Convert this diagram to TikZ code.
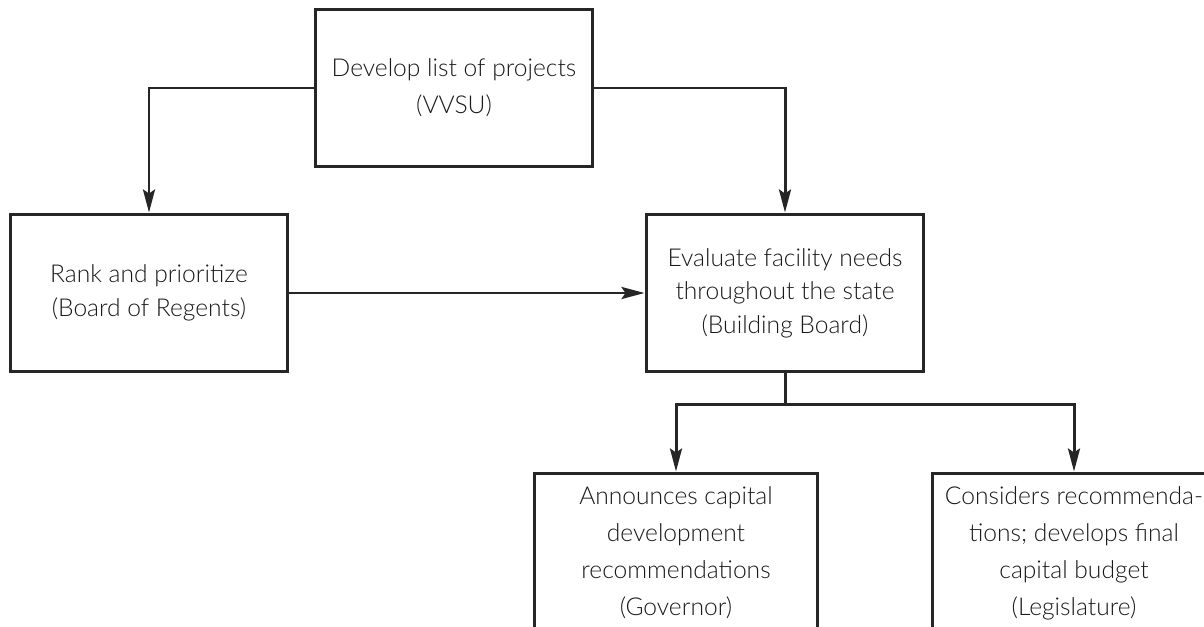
\documentclass[tikz,border=0pt]{standalone}
\usepackage{fontspec}
\IfFontExistsTF{Lato Light}{\setmainfont{Lato Light}}{\setmainfont{Lato}}
\usepackage{tikz}
\usetikzlibrary{arrows.meta,calc}

\tikzset{
	stepbox/.style={draw, rectangle, align=center, text=black!90,
		minimum width=5.56cm, minimum height=3.16cm, inner sep=2pt,
		font=\fontsize{14}{19}\selectfont},
	lowbox/.style={stepbox, minimum width=5.68cm, minimum height=3.2cm,
		font=\fontsize{14}{21}\selectfont}
}

\begin{document}
\begin{tikzpicture}[x=0.02cm,y=-0.02cm, line width=1.7pt, draw=black!85,
	>={Stealth[length=0.46cm,width=0.24cm,inset=0.08cm]}]
	\useasboundingbox (0,0) rectangle (1204,626);
	\clip (0,0) rectangle (1204,626);
	% the five steps
	\node[stepbox, font=\fontsize{14}{21}\selectfont] (proj) at (454,88) {Develop list of projects\\(VVSU)};
	\node[stepbox] (rank) at (149,293) {Rank and prioritize\\(Board of Regents)};
	\node[stepbox] (eval) at (785,293) {Evaluate facility needs\\throughout the state\\(Building Board)};
	\node[lowbox] (gov) at (676,553) {Announces capital\\development\\recommendations\\(Governor)};
	\node[lowbox] (leg) at (1074,553) {Considers recommenda-\\tions; develops final\\capital budget\\(Legislature)};
	% connectors
	\draw[->] (proj.west) -| (rank.north);
	\draw[->] (proj.east) -| (eval.north);
	\draw[->] (rank) -- (eval);
	\draw (eval.south) -- ++(0,31) coordinate (split);
	\draw[->] (split) -| (gov.north);
	\draw[->] (split) -| (leg.north);
\end{tikzpicture}
\end{document}
